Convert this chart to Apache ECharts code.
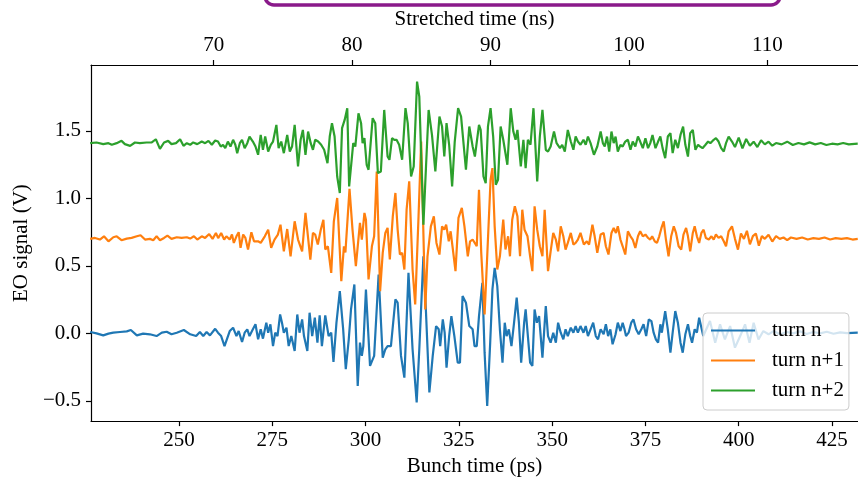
<!DOCTYPE html>
<html>
<head>
<meta charset="utf-8">
<script src="https://cdn.jsdelivr.net/npm/echarts@6/dist/echarts.min.js"></script>
<style>
html,body{margin:0;padding:0;background:#fff;}
#chart{width:858px;height:482px;}
</style>
</head>
<body>
<div id="chart"></div>
<script>
// ---- data ----
const seriesNames = ['turn n', 'turn n+1', 'turn n+2'];
const bunchTicks = [250, 275, 300, 325, 350, 375, 400, 425];
const stretchedTicks = [70, 80, 90, 100, 110];
const signalTicks = [-0.5, 0.0, 0.5, 1.0, 1.5];

const turnNTime = [226.2,227.9,229.7,231.1,232.4,234.2,236.0,237.1,238.7,240.4,242.2,244.0,245.4,246.7,248.0,249.4,251.3,253.0,254.6,255.6,256.5,257.4,258.3,259.7,
260.45,261.3,262.2,263.6,264.5,265.4,266.0,266.9,267.6,268.3,268.9,269.8,270.5,271.2,271.9,272.5,273.4,273.9,274.5,275.2,275.8,276.4,277.1,277.6,278.1,278.8,279.4,280.1,281.0,281.7,282.3,283.0,283.5,284.4,285.0,285.7,286.4,287.1,287.7,288.3,289.2,290.1,290.8,291.4,292.2,293.1,294.0,294.7,
295.5,296.1,297.0,297.9,298.5,299.0,299.4,300.1,301.2,302.3,303.5,304.6,305.3,305.9,306.8,308.0,308.6,309.5,310.4,311.5,312.6,313.7,314.4,315.5,316.2,317.1,318.0,318.9,319.6,320.0,320.7,321.2,321.7,322.4,323.0,323.8,324.7,325.3,326.0,326.9,327.8,328.7,329.2,
329.8,330.4,331.3,331.9,332.6,333.4,334.0,334.6,335.3,336.0,336.7,337.3,337.8,338.4,339.1,339.8,340.5,341.1,341.7,342.5,342.9,343.5,344.1,344.7,345.3,345.9,346.5,347.4,348.3,348.9,349.6,350.3,351.0,351.6,352.3,353.0,353.6,354.2,355.0,355.7,356.3,356.9,357.6,358.4,359.0,359.6,360.3,361.0,361.7,362.3,363.0,
363.8,364.4,365.0,365.6,366.2,367.0,367.6,368.3,368.9,369.4,369.8,370.5,371.2,371.8,372.5,373.2,373.9,374.5,375.2,375.9,376.6,377.2,377.8,378.4,379.0,379.4,380.3,381.0,381.7,382.3,383.0,383.7,384.4,385.0,385.7,386.4,387.0,387.5,388.2,388.8,389.4,
390.5,392.3,393.7,395.0,396.3,397.7,399.0,400.4,401.7,402.9,404.0,405.3,406.6,408.0,409.3,411.1,412.9,414.6,416.4,418.2,420.0,421.8,423.6,425.4,427.2,429.0,431.9];
const turnNValue = [0.010,0.000,-0.015,-0.002,0.005,0.010,0.015,0.025,-0.015,-0.002,-0.007,-0.020,0.005,0.012,-0.007,0.005,0.025,-0.007,-0.020,0.010,-0.020,0.010,-0.015,0.034,
0.005,-0.020,-0.094,0.017,0.042,-0.020,0.017,-0.064,0.005,0.030,-0.020,0.030,0.067,-0.044,0.030,-0.039,0.079,0.005,0.067,-0.094,0.005,-0.020,0.140,0.079,0.005,0.042,-0.094,-0.020,-0.131,0.140,0.005,0.103,-0.020,-0.131,0.153,-0.020,0.116,-0.069,0.133,-0.094,0.133,-0.020,0.005,-0.212,0.079,0.313,0.030,-0.266,
-0.044,0.177,0.362,-0.389,-0.069,-0.167,-0.094,0.325,-0.241,-0.167,0.436,-0.180,-0.118,-0.094,-0.094,0.251,0.227,-0.167,-0.328,0.448,-0.118,-0.512,-0.118,0.571,0.153,-0.438,-0.167,0.054,0.030,-0.094,0.103,0.005,-0.254,-0.020,0.128,-0.020,-0.217,-0.217,0.276,0.227,0.054,0.030,-0.094,
-0.094,0.128,0.374,-0.143,-0.537,-0.069,0.325,0.485,0.350,0.030,-0.217,0.079,-0.020,0.030,-0.094,0.079,0.264,0.079,-0.217,0.079,0.177,-0.020,-0.217,-0.241,0.177,0.079,0.128,-0.180,0.202,-0.020,-0.069,0.005,-0.069,0.079,0.005,-0.044,0.030,-0.020,0.042,0.005,0.054,0.005,0.054,0.005,0.054,-0.020,0.030,0.079,-0.020,-0.044,0.030,
-0.007,0.067,-0.020,0.030,-0.081,-0.007,0.079,0.017,0.079,0.030,-0.020,0.005,0.079,0.103,0.030,-0.007,0.030,0.067,-0.020,0.103,0.091,0.005,-0.044,-0.069,0.067,0.005,0.165,0.030,-0.143,0.005,0.165,0.079,-0.069,-0.143,-0.007,0.067,-0.020,-0.069,0.030,0.005,0.116,
-0.020,0.091,-0.069,0.067,-0.045,0.054,-0.106,-0.020,0.067,-0.069,0.079,-0.045,0.017,-0.007,0.017,-0.007,0.010,0.000,0.015,-0.005,0.010,0.000,0.012,-0.003,0.007,0.002,0.005];

const turnN1Time = [226.2,227.5,228.8,229.9,231.1,232.4,233.3,234.6,236.0,237.3,238.7,239.7,240.9,242.2,243.1,244.0,244.9,246.0,246.9,248.0,249.4,250.7,252.1,253.0,254.0,254.9,256.1,257.0,258.1,259.0,259.9,
260.5,261.3,262.1,262.7,263.6,264.2,264.7,265.4,266.0,266.5,267.2,267.8,268.5,269.4,270.1,271.2,271.9,273.0,273.9,274.7,275.6,276.5,277.2,278.1,279.0,279.5,279.9,281.0,281.9,283.0,283.9,284.6,285.2,285.9,286.5,287.2,288.0,288.7,289.2,289.9,290.8,291.5,292.4,293.5,294.2,294.6,295.7,
296.5,297.4,298.5,299.0,299.7,300.1,300.8,301.7,302.3,303.0,303.9,304.6,305.3,305.9,306.5,307.3,308.0,308.6,309.2,309.8,310.4,311.0,311.7,312.6,313.3,314.2,314.9,316.0,316.6,317.5,318.3,319.0,319.8,320.5,321.1,321.6,322.3,322.8,323.3,324.1,324.9,325.8,326.5,327.4,328.0,328.7,
329.1,329.8,330.4,331.0,331.9,332.6,333.5,334.0,334.6,335.3,336.0,336.9,337.5,338.2,338.7,339.3,340.0,340.7,341.4,342.0,342.6,343.4,344.1,344.7,345.3,346.0,346.7,347.4,348.0,348.9,349.6,350.3,351.0,351.6,352.3,353.0,353.6,354.2,355.0,355.7,356.3,356.9,357.6,358.5,359.3,359.9,360.8,361.4,362.1,363.0,
363.8,364.4,365.1,365.9,366.5,367.1,367.6,368.3,368.9,369.6,370.3,371.0,371.6,372.3,373.0,373.6,374.3,375.0,375.7,376.3,376.8,377.5,378.1,378.7,379.3,379.9,380.5,381.2,381.9,382.6,383.2,383.9,384.6,385.2,385.9,386.4,387.0,387.7,388.2,388.8,389.4,390.0,390.6,391.2,392.0,392.7,393.3,393.9,394.6,395.3,396.0,396.6,397.3,398.2,
399.0,399.8,400.6,401.4,402.2,403.0,403.8,404.6,405.4,406.2,407.0,408.0,409.0,410.0,411.0,412.0,413.0,414.0,415.5,417.0,418.5,420.0,421.5,423.0,424.5,426.0,427.5,429.0,430.5,431.9];
const turnN1Value = [0.700,0.707,0.695,0.719,0.682,0.712,0.719,0.690,0.702,0.707,0.719,0.727,0.695,0.700,0.690,0.719,0.690,0.707,0.724,0.700,0.712,0.707,0.712,0.702,0.719,0.695,0.719,0.707,0.736,0.700,0.744,
0.705,0.744,0.695,0.719,0.695,0.732,0.670,0.719,0.749,0.633,0.732,0.707,0.621,0.749,0.682,0.682,0.670,0.719,0.768,0.633,0.695,0.732,0.805,0.608,0.773,0.768,0.571,0.830,0.695,0.608,0.892,0.707,0.547,0.744,0.732,0.658,0.768,0.842,0.621,0.645,0.448,0.830,1.003,0.387,0.645,0.600,1.070,
0.768,0.498,0.818,0.695,0.892,0.842,0.399,0.645,0.719,1.199,0.313,0.596,0.744,0.781,0.547,0.867,1.040,0.768,0.584,0.596,0.473,0.916,1.126,0.473,0.214,0.867,1.421,0.177,0.571,0.793,0.867,0.670,0.584,0.793,0.768,0.805,0.682,0.756,0.645,0.461,0.855,0.929,0.793,0.571,0.682,0.695,
0.707,0.645,1.064,0.596,0.140,0.571,1.138,1.224,0.793,0.473,0.571,0.842,0.621,0.719,0.571,0.842,0.941,0.867,0.571,0.916,0.768,0.719,0.571,0.461,0.941,0.768,0.645,0.571,0.916,0.461,0.608,0.744,0.695,0.608,0.793,0.719,0.621,0.670,0.744,0.658,0.670,0.695,0.744,0.658,0.682,0.658,0.805,0.719,0.596,0.732,
0.744,0.645,0.584,0.744,0.781,0.744,0.793,0.695,0.645,0.584,0.756,0.719,0.695,0.633,0.719,0.756,0.719,0.732,0.707,0.695,0.719,0.682,0.670,0.719,0.781,0.830,0.695,0.571,0.719,0.793,0.744,0.645,0.621,0.732,0.781,0.719,0.608,0.744,0.793,0.719,0.670,0.744,0.768,0.707,0.695,0.719,0.695,0.732,0.707,0.719,0.682,0.645,0.756,0.793,
0.700,0.620,0.740,0.700,0.760,0.660,0.720,0.740,0.650,0.720,0.700,0.730,0.680,0.720,0.700,0.710,0.690,0.710,0.700,0.710,0.695,0.705,0.700,0.710,0.695,0.705,0.700,0.705,0.695,0.700];

const turnN2Time = [226.2,227.9,229.7,231.1,232.0,233.3,234.6,235.5,236.9,238.2,239.5,241.3,242.7,243.8,244.9,246.0,247.1,248.0,249.2,250.3,251.2,252.1,253.0,253.8,254.9,256.1,257.0,257.9,258.8,259.7,
260.45,261.2,261.8,262.4,263.1,263.8,264.5,265.1,265.6,266.3,266.9,267.6,268.3,268.9,269.8,270.5,271.2,271.9,272.5,273.1,273.9,274.6,275.2,276.1,276.7,277.4,278.1,279.0,279.7,280.3,281.0,281.9,282.6,283.2,283.9,284.6,285.3,285.9,286.5,287.3,288.1,288.9,289.8,290.4,291.0,291.7,292.4,293.1,293.7,294.4,295.1,
295.6,296.7,297.25,298.1,298.8,299.2,299.7,300.3,300.8,301.9,302.6,303.3,304.1,305.0,305.9,306.4,307.1,307.7,308.3,309.0,309.8,310.7,311.3,312.2,312.9,313.8,314.4,315.5,316.2,316.9,317.8,318.7,319.8,320.5,321.1,321.7,322.4,323.2,323.9,324.8,325.6,326.9,327.8,328.7,
329.3,329.8,330.4,330.85,331.6,332.2,332.8,333.5,334.2,334.9,335.5,336.2,336.9,337.3,338.0,338.9,339.6,340.2,340.7,341.6,342.3,342.9,343.5,344.2,345.0,346.0,346.7,347.4,348.3,348.9,349.6,350.5,351.2,352.1,352.7,353.4,354.2,355.0,355.7,356.3,356.9,357.6,358.4,359.0,359.6,360.3,361.2,362.1,363.0,363.6,
364.1,364.7,365.3,365.9,366.5,367.0,367.6,368.3,368.9,369.6,370.3,371.0,371.6,372.3,373.0,373.6,374.3,375.0,375.7,376.3,376.9,377.7,378.4,379.0,379.6,380.3,381.0,381.7,382.3,383.0,383.7,384.4,385.1,385.7,386.4,387.0,387.7,388.4,389.1,389.7,390.3,391.1,391.8,392.4,393.3,393.9,394.6,395.3,396.0,396.6,397.3,398.2,
399.0,400.0,401.0,402.0,403.0,404.0,405.0,406.0,407.0,408.0,409.0,410.0,411.5,413.0,414.5,416.0,417.5,419.0,420.5,422.0,423.5,425.0,426.5,428.0,429.5,431.9];
const turnN2Value = [1.409,1.414,1.402,1.409,1.397,1.409,1.426,1.402,1.389,1.414,1.409,1.414,1.414,1.438,1.367,1.414,1.426,1.402,1.409,1.438,1.389,1.409,1.397,1.414,1.402,1.421,1.409,1.426,1.397,1.429,
1.421,1.384,1.397,1.372,1.421,1.384,1.434,1.397,1.335,1.409,1.434,1.372,1.409,1.458,1.421,1.384,1.323,1.470,1.360,1.458,1.347,1.397,1.421,1.544,1.372,1.421,1.335,1.470,1.347,1.384,1.544,1.236,1.434,1.507,1.323,1.495,1.409,1.360,1.434,1.421,1.397,1.360,1.261,1.458,1.557,1.458,1.162,1.040,1.520,1.581,1.668,
1.089,1.409,1.384,1.630,1.557,1.409,1.446,1.249,1.212,1.594,1.557,1.187,1.199,1.655,1.310,1.286,1.446,1.434,1.434,1.397,1.286,1.668,1.557,1.162,1.236,1.865,1.754,0.805,1.236,1.655,1.470,1.199,1.606,1.532,1.310,1.557,1.397,1.089,1.421,1.668,1.606,1.212,1.532,1.384,
1.310,1.298,1.544,1.507,1.162,1.113,1.532,1.668,1.458,1.101,1.138,1.532,1.434,1.446,1.249,1.668,1.495,1.434,1.507,1.236,1.434,1.224,1.434,1.397,1.668,1.126,1.458,1.655,1.360,1.347,1.384,1.495,1.409,1.372,1.397,1.347,1.507,1.421,1.360,1.458,1.421,1.397,1.434,1.397,1.458,1.409,1.323,1.384,1.495,1.409,
1.384,1.458,1.347,1.495,1.409,1.458,1.347,1.397,1.384,1.421,1.434,1.360,1.421,1.384,1.458,1.421,1.372,1.446,1.372,1.409,1.470,1.372,1.421,1.458,1.372,1.298,1.458,1.483,1.335,1.434,1.372,1.470,1.532,1.397,1.310,1.483,1.507,1.360,1.397,1.384,1.372,1.397,1.421,1.409,1.434,1.446,1.421,1.372,1.347,1.409,1.458,1.421,
1.380,1.450,1.370,1.440,1.390,1.420,1.380,1.430,1.400,1.420,1.390,1.410,1.400,1.420,1.395,1.410,1.400,1.415,1.400,1.410,1.395,1.405,1.400,1.410,1.400,1.405];

// ---- chart ----
const FONT = "'Liberation Serif', 'DejaVu Serif', serif";
const colors = ['#1f77b4', '#ff7f0e', '#2ca02c'];
const pairs = (t, v) => t.map((x, i) => [x, v[i]]);
const fmtNum = v => v.toFixed(1).replace('-', '\u2212');

const chart = echarts.init(document.getElementById('chart'), null, {renderer: 'canvas'});
chart.setOption({
  animation: false,
  backgroundColor: '#ffffff',
  color: colors,
  textStyle: {fontFamily: FONT},
  grid: {left: 91, right: 0, top: 65, bottom: 60, containLabel: false},
  xAxis: [{
    type: 'value', position: 'bottom', min: 226.42, max: 431.97,
    name: 'Bunch time (ps)', nameLocation: 'middle', nameGap: 34,
    nameTextStyle: {fontFamily: FONT, fontSize: 21, color: '#000'},
    axisLine: {show: true, onZero: false, lineStyle: {color: '#000', width: 1.2}},
    axisTick: {show: true, length: 5, lineStyle: {color: '#000', width: 1.2}, customValues: bunchTicks},
    axisLabel: {fontFamily: FONT, fontSize: 21, color: '#000', margin: 9, customValues: bunchTicks, formatter: v => String(Math.round(v))},
    splitLine: {show: false}
  }, {
    type: 'value', position: 'top', min: 61.14, max: 116.55,
    name: 'Stretched time (ns)', nameLocation: 'middle', nameGap: 34,
    nameTextStyle: {fontFamily: FONT, fontSize: 21, color: '#000'},
    axisLine: {show: true, onZero: false, lineStyle: {color: '#000', width: 1.2}},
    axisTick: {show: true, length: 5, lineStyle: {color: '#000', width: 1.2}, customValues: stretchedTicks},
    axisLabel: {fontFamily: FONT, fontSize: 21, color: '#000', margin: 9, customValues: stretchedTicks, formatter: v => String(Math.round(v))},
    splitLine: {show: false}
  }],
  yAxis: [{
    type: 'value', min: -0.65, max: 1.988,
    name: 'EO signal (V)', nameLocation: 'middle', nameGap: 59,
    nameTextStyle: {fontFamily: FONT, fontSize: 21, color: '#000'},
    axisLine: {show: true, onZero: false, lineStyle: {color: '#000', width: 1.2}},
    axisTick: {show: true, length: 5, lineStyle: {color: '#000', width: 1.2}, customValues: signalTicks},
    axisLabel: {fontFamily: FONT, fontSize: 21, color: '#000', margin: 10, customValues: signalTicks, formatter: fmtNum},
    splitLine: {show: false}
  }],
  legend: {
    orient: 'vertical', left: 703, top: 313,
    data: seriesNames,
    icon: 'rect', itemWidth: 44, itemHeight: 2, itemGap: 9,
    padding: [7, 5, 9, 8],
    backgroundColor: 'rgba(255,255,255,0.8)',
    borderColor: '#cccccc', borderWidth: 1, borderRadius: 4,
    textStyle: {fontFamily: FONT, fontSize: 21, color: '#000', lineHeight: 21, padding: [0, 0, 0, 12]}
  },
  graphic: [{
    type: 'rect', z: 100,
    shape: {x: 265, y: -30, width: 515, height: 35, r: 9},
    style: {fill: 'none', stroke: '#8a1a8a', lineWidth: 3.5}
  }],
  series: [
    {name: seriesNames[0], type: 'line', data: pairs(turnNTime, turnNValue), showSymbol: false, symbol: 'none', lineStyle: {width: 2.2, color: colors[0]}, z: 2},
    {name: seriesNames[1], type: 'line', data: pairs(turnN1Time, turnN1Value), showSymbol: false, symbol: 'none', lineStyle: {width: 2.2, color: colors[1]}, z: 2},
    {name: seriesNames[2], type: 'line', data: pairs(turnN2Time, turnN2Value), showSymbol: false, symbol: 'none', lineStyle: {width: 2.2, color: colors[2]}, z: 2}
  ]
});
</script>
</body>
</html>
